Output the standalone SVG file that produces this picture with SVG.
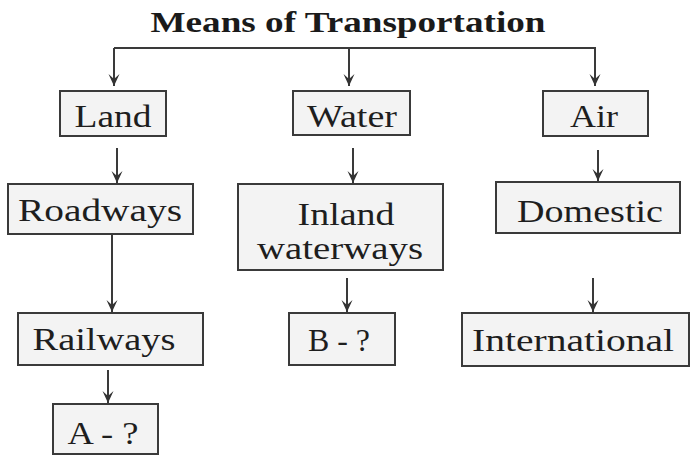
<svg xmlns="http://www.w3.org/2000/svg" width="693" height="457" viewBox="0 0 693 457">
<style>
.box{fill:#f3f3f3;stroke:#3a3a3a;stroke-width:2}
.lbl{font-family:"Liberation Serif","Times New Roman",Tinos,serif;font-size:32px;fill:#1e1e1e;text-anchor:middle}
.title{font-family:"Liberation Serif","Times New Roman",Tinos,serif;font-size:30px;font-weight:bold;fill:#1a1a1a;text-anchor:middle}
.conn{fill:none;stroke:#3a3a3a;stroke-width:2}
</style>
<defs>
<marker id="ah" viewBox="0 0 14 12" refX="13" refY="6" markerWidth="14" markerHeight="12" markerUnits="userSpaceOnUse" orient="auto">
<path d="M1,0.5 L13,6 L1,11.5 L6,6 Z" fill="#333"/>
</marker>
</defs>
<rect width="693" height="457" fill="#ffffff"/>
<text id="title" class="title" x="348" y="32" textLength="395" lengthAdjust="spacingAndGlyphs">Means of Transportation</text>
<g id="connectors">
<path class="conn" d="M114,48 H595 V86" marker-end="url(#ah)"/>
<path class="conn" d="M114,48 V86" marker-end="url(#ah)"/>
<path class="conn" d="M349,48 V86" marker-end="url(#ah)"/>
<path class="conn" d="M117,148 V183" marker-end="url(#ah)"/>
<path class="conn" d="M353,148 V183" marker-end="url(#ah)"/>
<path class="conn" d="M598,150 V181" marker-end="url(#ah)"/>
<path class="conn" d="M112,234 V312" marker-end="url(#ah)"/>
<path class="conn" d="M347,278 V312" marker-end="url(#ah)"/>
<path class="conn" d="M593,278 V312" marker-end="url(#ah)"/>
<path class="conn" d="M108,370 V403" marker-end="url(#ah)"/>
</g>
<g id="land"><rect class="box" x="60" y="91" width="106" height="45"/><text class="lbl" x="113" y="127" textLength="77" lengthAdjust="spacingAndGlyphs">Land</text></g>
<g id="water"><rect class="box" x="293" y="91" width="117" height="44"/><text class="lbl" x="352" y="127" textLength="90" lengthAdjust="spacingAndGlyphs">Water</text></g>
<g id="air"><rect class="box" x="543" y="91" width="105" height="45"/><text class="lbl" x="594" y="127" textLength="48" lengthAdjust="spacingAndGlyphs">Air</text></g>
<g id="roadways"><rect class="box" x="8" y="184" width="185" height="50"/><text class="lbl" x="100" y="221" textLength="164" lengthAdjust="spacingAndGlyphs">Roadways</text></g>
<g id="inland"><rect class="box" x="238" y="184" width="205" height="86"/><text class="lbl" x="346" y="225" font-size="30" textLength="97" lengthAdjust="spacingAndGlyphs">Inland</text><text class="lbl" x="340" y="259" font-size="30" textLength="166" lengthAdjust="spacingAndGlyphs">waterways</text></g>
<g id="domestic"><rect class="box" x="496" y="182" width="184" height="51"/><text class="lbl" x="590" y="222" textLength="146" lengthAdjust="spacingAndGlyphs">Domestic</text></g>
<g id="railways"><rect class="box" x="18" y="313" width="185" height="52"/><text class="lbl" x="104" y="350" textLength="143" lengthAdjust="spacingAndGlyphs">Railways</text></g>
<g id="b"><rect class="box" x="289" y="313" width="106" height="52"/><text class="lbl" x="339" y="351" textLength="62" lengthAdjust="spacingAndGlyphs">B - ?</text></g>
<g id="international"><rect class="box" x="462" y="313" width="227" height="53"/><text class="lbl" x="573" y="351" textLength="202" lengthAdjust="spacingAndGlyphs">International</text></g>
<g id="a"><rect class="box" x="53" y="404" width="105" height="50"/><text class="lbl" x="103" y="444" textLength="71" lengthAdjust="spacingAndGlyphs">A - ?</text></g>
</svg>
